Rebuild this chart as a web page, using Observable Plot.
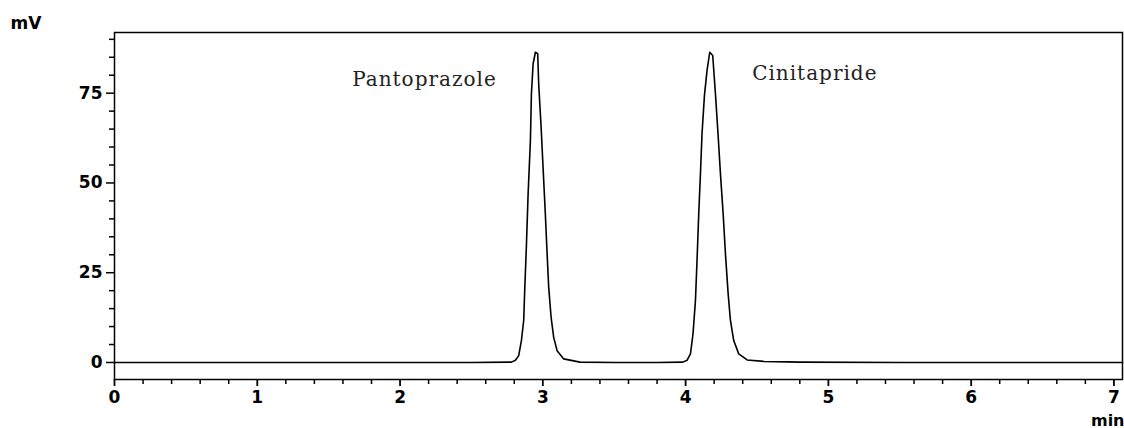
<!DOCTYPE html>
<html>
<head>
<meta charset="utf-8">
<script src="https://cdn.jsdelivr.net/npm/d3@7"></script>
<script src="https://cdn.jsdelivr.net/npm/@observablehq/plot@0.6"></script>
<style>
  html, body { margin: 0; padding: 0; background: #fff; }
  #chart { width: 1124px; height: 428px; }
</style>
</head>
<body>
<div id="chart"></div>
<script>
// Retention time (min) and detector signal (mV)
const retentionTime = [
  0, 1, 2, 2.5, 2.78,
  2.808, 2.831, 2.850, 2.866, 2.873, 2.885, 2.897, 2.913, 2.920, 2.932, 2.948,
  2.964, 2.971, 2.988, 3.002, 3.018, 3.030, 3.041, 3.058, 3.076, 3.100, 3.146,
  3.26, 3.5, 3.8, 3.98,
  4.010, 4.034, 4.052, 4.069, 4.080, 4.092, 4.104, 4.115, 4.132, 4.150, 4.169,
  4.190, 4.209, 4.227, 4.244, 4.263, 4.279, 4.298, 4.314, 4.337, 4.372, 4.431,
  4.547, 4.8, 5.5, 6.5, 7.06
];
const signalMV = [
  0, 0, 0, 0, 0.1,
  0.6, 1.9, 6.1, 11.7, 20, 32.6, 47, 61.8, 74.8, 83.2, 86.4,
  86, 77.6, 65.5, 54, 41, 30.3, 21, 12.6, 7.0, 3.3, 1.0,
  0.1, 0, 0, 0.1,
  0.6, 2.4, 8, 17.3, 28.4, 41.4, 52.6, 63.7, 74.4, 81.3, 86.4,
  85.5, 74.8, 63.7, 52.6, 41.4, 30.3, 19.1, 11.7, 6.1, 2.4, 0.7,
  0.3, 0.1, 0, 0, 0
];

const peakNames = ["Pantoprazole", "Cinitapride"];
const peakLabelTime = [1.665, 4.466];
const peakLabelMV = [76.9, 78.55];

const xMajorTicks = [0, 1, 2, 3, 4, 5, 6, 7];
const xMinorTicks = [0.2, 0.4, 0.6, 0.8, 1.2, 1.4, 1.6, 1.8, 2.2, 2.4, 2.6, 2.8, 3.2, 3.4, 3.6, 3.8,
                     4.2, 4.4, 4.6, 4.8, 5.2, 5.4, 5.6, 5.8, 6.2, 6.4, 6.6, 6.8];
const yMajorTicks = [0, 25, 50, 75];
const yMinorTicks = [5, 10, 15, 20, 30, 35, 40, 45, 55, 60, 65, 70, 80, 85, 90];

const trace = retentionTime.map((t, i) => ({t, v: signalMV[i]}));
const noLabel = () => "";

const chart = Plot.plot({
  width: 1124,
  height: 428,
  marginLeft: 114,
  marginRight: 2,
  marginTop: 32,
  marginBottom: 49,
  x: {domain: [0, 7.06]},
  y: {domain: [-4.74, 91.9]},
  style: {fontFamily: "DejaVu Sans", fontSize: "17px", color: "black", background: "white"},
  marks: [
    Plot.axisY(yMajorTicks, {tickSize: 8, tickPadding: 4, strokeWidth: 1.5, fontSize: 17, fontWeight: "bold", label: null}),
    Plot.axisY(yMinorTicks, {tickSize: 5, strokeWidth: 1.5, tickFormat: noLabel, label: null}),
    Plot.axisX(xMajorTicks, {tickSize: 7, tickPadding: 4, strokeWidth: 1.8, fontSize: 17, fontWeight: "bold", tickFormat: d => String(d), label: null}),
    Plot.axisX(xMinorTicks, {tickSize: 5, strokeWidth: 1.5, tickFormat: noLabel, label: null}),
    Plot.frame({stroke: "black", strokeWidth: 1.5}),
    Plot.line(trace, {x: "t", y: "v", stroke: "black", strokeWidth: 1.6}),
    Plot.text(peakNames, {
      x: (d, i) => peakLabelTime[i], y: (d, i) => peakLabelMV[i], text: d => d,
      textAnchor: "start", lineAnchor: "bottom",
      fontFamily: "DejaVu Serif", fontSize: 20, fill: "#222"
    }),
    Plot.text(["mV"], {frameAnchor: "top-left", dx: -104, dy: -4, textAnchor: "start", lineAnchor: "bottom", fontSize: 17, fontWeight: "bold"}),
    Plot.text(["min"], {frameAnchor: "bottom-right", dx: 2, dy: 46, textAnchor: "end", lineAnchor: "bottom", fontSize: 16, fontWeight: "bold"})
  ]
});

d3.select(chart).selectAll("text").filter(function() {
  return peakNames.includes(this.textContent);
}).attr("letter-spacing", "1px");

document.getElementById("chart").appendChild(chart);
</script>
</body>
</html>
